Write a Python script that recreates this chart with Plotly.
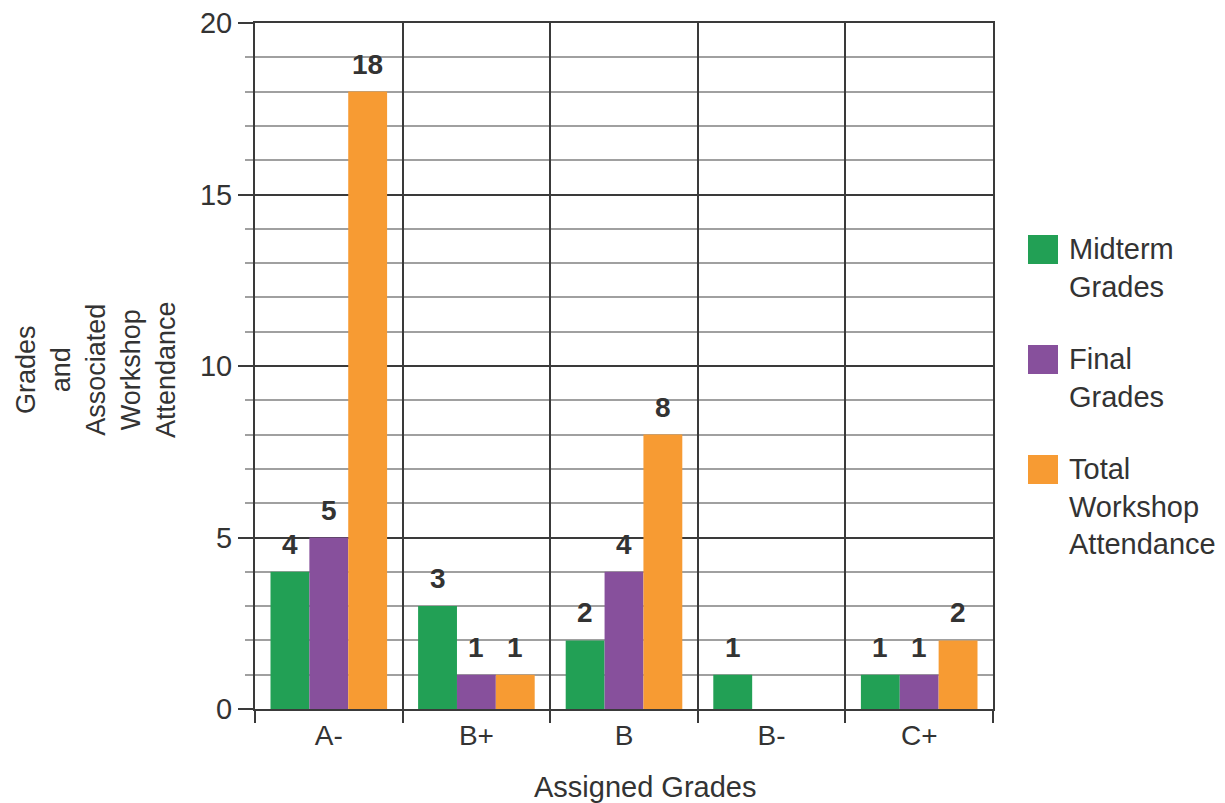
import plotly.graph_objects as go

categories = ["A-", "B+", "B", "B-", "C+"]
midterm = [4, 3, 2, 1, 1]
final = [5, 1, 4, 0, 1]
attendance = [18, 1, 8, 0, 2]
series_names = ["Midterm<br>Grades", "Final<br>Grades", "Total<br>Workshop<br>Attendance"]
colors = ["#22a055", "#87509c", "#f79b33"]

W, H = 1225, 803
L, R, T, B = 255, 232, 23, 94
pw, ph = W - L - R, H - T - B
FONT = "Liberation Sans, Arial, sans-serif"
TXT = "#333333"

def px_x(x):
    return (x - L) / pw

def px_y(y):
    return (H - B - y) / ph

bargap = 0.21
bar_w = (1 - bargap) / 3

fig = go.Figure()
all_series = [midterm, final, attendance]
for i, (vals, color) in enumerate(zip(all_series, colors)):
    fig.add_trace(go.Bar(x=categories, y=vals, marker=dict(color=color, line=dict(width=0)),
                         showlegend=False, hoverinfo="x+y"))
    for j, v in enumerate(vals):
        if v > 0:
            fig.add_annotation(x=j + (i - 1) * bar_w, y=v, xref="x", yref="y",
                               text=f"<b>{v}</b>", showarrow=False, yanchor="bottom",
                               yshift=10, font=dict(family=FONT, size=28, color=TXT))

# manual legend
sq_tops = [235, 345, 455]
for name, color, top in zip(series_names, colors, sq_tops):
    fig.add_shape(type="rect", xref="paper", yref="paper",
                  x0=px_x(1028), x1=px_x(1058), y0=px_y(top + 29), y1=px_y(top),
                  fillcolor=color, line=dict(width=0))
    fig.add_annotation(xref="paper", yref="paper", x=px_x(1067), y=px_y(top - 4),
                       xanchor="left", yanchor="top", align="left", showarrow=False,
                       text=name, font=dict(family=FONT, size=29, color=TXT))

fig.add_annotation(xref="paper", yref="paper", x=px_x(96), y=px_y(370),
                   xanchor="center", yanchor="middle", textangle=-90, showarrow=False,
                   text="Grades<br>and<br>Associated<br>Workshop<br>Attendance",
                   font=dict(family=FONT, size=27, color=TXT))
fig.add_annotation(xref="paper", yref="paper", x=px_x(645), y=px_y(787),
                   xanchor="center", yanchor="middle", showarrow=False,
                   text="Assigned Grades", font=dict(family=FONT, size=29, color=TXT))

fig.update_layout(
    width=W, height=H,
    margin=dict(l=L, r=R, t=T, b=B, autoexpand=False),
    paper_bgcolor="white", plot_bgcolor="white",
    barmode="group", bargap=bargap, bargroupgap=0,
    font=dict(family=FONT, size=28, color=TXT),
    showlegend=False,
    xaxis=dict(type="category", range=[-0.5, 4.5], tickson="boundaries",
               showgrid=True, gridcolor="#3a3a3a", gridwidth=2,
               ticks="outside", ticklen=12, tickwidth=2, tickcolor="#3a3a3a",
               showline=True, linecolor="#3a3a3a", linewidth=2, mirror=True,
               tickfont=dict(family=FONT, size=28, color=TXT)),
    yaxis=dict(range=[0, 20], dtick=5, tick0=0,
               showgrid=True, gridcolor="#3a3a3a", gridwidth=2,
               ticks="outside", ticklen=15, tickwidth=2, tickcolor="#3a3a3a",
               showline=True, linecolor="#3a3a3a", linewidth=2, mirror=True,
               zeroline=False,
               minor=dict(dtick=1, showgrid=True, gridcolor="#a0a0a0", gridwidth=2,
                          ticks="outside", ticklen=8, tickwidth=2, tickcolor="#a0a0a0"),
               tickfont=dict(family=FONT, size=29, color=TXT)),
)

fig.write_html("out.html", config={"displayModeBar": False},
               post_script="document.body.style.margin='0';")
